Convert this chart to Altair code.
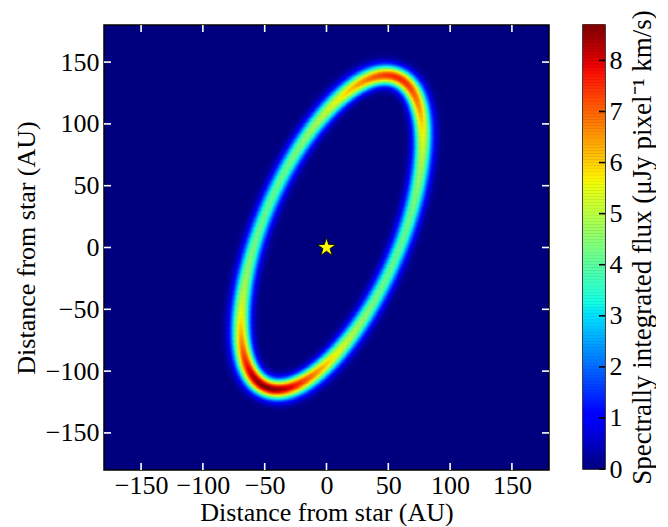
import numpy as np
import pandas as pd
import altair as alt

# ---------------- values ----------------
x_ticks = [-150, -100, -50, 0, 50, 100, 150]
y_ticks = [-150, -100, -50, 0, 50, 100, 150]
axis_limits = [-180, 180]
cbar_ticks = [0, 1, 2, 3, 4, 5, 6, 7, 8]

# ring geometry (AU, degrees)
ring_center = [4.5, 12.5]
ring_semi_major = 136.0
ring_semi_minor = 55.5
ring_tilt_deg = 23.0            # major axis tilt from +y towards +x
ring_sigma_ansa = 5.4           # Gaussian width at the ansae (AU, sky)
ring_sigma_side_ratio = 0.93    # width ratio at minor-axis ends
ring_base_flux = 3.85           # flux along the sides
ansa_angle_deg = [0.0, 180.0]   # top-right ansa, bottom-left ansa
ansa_extra_flux = [3.7, 4.85]
ansa_width_deg = [34.0, 34.0]
star_xy = [0.0, 0.0]

cell = 1.0

# ---------------- build the image ----------------
centers = np.arange(axis_limits[0] + cell / 2, axis_limits[1], cell)
X, Y = np.meshgrid(centers, centers)
t = np.deg2rad(ring_tilt_deg)
dx = X - ring_center[0]
dy = Y - ring_center[1]
u = dx * np.sin(t) + dy * np.cos(t)
v = dx * np.cos(t) - dy * np.sin(t)
a, b = ring_semi_major, ring_semi_minor
rho = np.sqrt((u / a) ** 2 + (v / b) ** 2)
phi = np.arctan2(v / b, u / a)
dist = (rho - 1.0) * a * b / np.sqrt((b * np.cos(phi)) ** 2 + (a * np.sin(phi)) ** 2)
sig = ring_sigma_ansa * np.sqrt(np.cos(phi) ** 2 + (ring_sigma_side_ratio * np.sin(phi)) ** 2)
flux = np.full_like(phi, ring_base_flux)
for ang, amp, w in zip(ansa_angle_deg, ansa_extra_flux, ansa_width_deg):
    d = np.angle(np.exp(1j * (phi - np.deg2rad(ang))))
    flux = flux + amp * np.exp(-d ** 2 / (2 * np.deg2rad(w) ** 2))
img = flux * np.exp(-dist ** 2 / (2 * sig ** 2))
vmax = float(img.max())


def jet(tt):
    tt = np.clip(tt, 0, 1)
    r = np.interp(tt, [0, 0.35, 0.66, 0.89, 1], [0, 0, 1, 1, 0.5])
    g = np.interp(tt, [0, 0.125, 0.375, 0.64, 0.91, 1], [0, 0, 1, 1, 0, 0])
    bb = np.interp(tt, [0, 0.11, 0.34, 0.65, 1], [0.5, 1, 1, 0, 0])
    return ["#%02x%02x%02x" % (int(round(p * 255)), int(round(q * 255)), int(round(s * 255)))
            for p, q, s in zip(r, g, bb)]


mask = img > 0.06
vals = img[mask]
cells = pd.DataFrame({
    "x0": X[mask] - cell / 2, "x1": X[mask] + cell / 2,
    "y0": Y[mask] - cell / 2, "y1": Y[mask] + cell / 2,
    "c": jet(vals / vmax),
})

W = 445
H = 445
FONT = "Liberation Serif"
FS = 26
xs = alt.Scale(domain=axis_limits, nice=False, zero=False)
ys = alt.Scale(domain=axis_limits, nice=False, zero=False)
tick_len = 7

heat = alt.Chart(cells).mark_rect(strokeWidth=0.6).encode(
    x=alt.X("x0:Q", scale=xs, axis=alt.Axis(values=x_ticks, title="Distance from star (AU)",
                                            labelPadding=2, titlePadding=1)),
    x2="x1:Q",
    y=alt.Y("y0:Q", scale=ys, axis=alt.Axis(values=y_ticks, title="Distance from star (AU)",
                                            labelPadding=5, titlePadding=6)),
    y2="y1:Q",
    color=alt.Color("c:N", scale=None),
    stroke=alt.Stroke("c:N", scale=None),
)

star_path = ("M0,-1L0.2245,-0.309L0.951,-0.309L0.363,0.118L0.588,0.809L0,0.382"
             "L-0.588,0.809L-0.363,0.118L-0.951,-0.309L-0.2245,-0.309Z")
star = alt.Chart(pd.DataFrame({"x": [star_xy[0]], "y": [star_xy[1]]})).mark_point(
    shape=star_path, filled=True, fill="#ffff00", stroke="black", strokeWidth=0.8,
    size=380, opacity=1).encode(x=alt.X("x:Q", scale=xs), y=alt.Y("y:Q", scale=ys))

xt = pd.DataFrame({"t": x_ticks})
yt = pd.DataFrame({"t": y_ticks})
rule_style = dict(color="white", strokeWidth=1.6)
tb = alt.Chart(xt).mark_rule(**rule_style).encode(
    x=alt.X("t:Q", scale=xs), y=alt.value(H), y2=alt.value(H - tick_len))
tt_ = alt.Chart(xt).mark_rule(**rule_style).encode(
    x=alt.X("t:Q", scale=xs), y=alt.value(0), y2=alt.value(tick_len))
tl = alt.Chart(yt).mark_rule(**rule_style).encode(
    y=alt.Y("t:Q", scale=ys), x=alt.value(0), x2=alt.value(tick_len))
tr = alt.Chart(yt).mark_rule(**rule_style).encode(
    y=alt.Y("t:Q", scale=ys), x=alt.value(W), x2=alt.value(W - tick_len))

main = alt.layer(heat, star, tb, tt_, tl, tr).properties(width=W, height=H)

# ---------------- colour bar ----------------
nseg = 300
edges = np.linspace(0, vmax, nseg + 1)
mids = (edges[:-1] + edges[1:]) / 2
cb = pd.DataFrame({"lo": edges[:-1], "hi": edges[1:] + vmax / nseg * 0.3,
                   "x0": 0.0, "x1": 1.0, "c": jet(mids / vmax)})
cbs = alt.Scale(domain=[0, vmax], nice=False, zero=False)
cbar_rects = alt.Chart(cb).mark_rect(strokeWidth=0).encode(
    x=alt.X("x0:Q", scale=alt.Scale(domain=[0, 1]), axis=None),
    x2="x1:Q",
    y=alt.Y("lo:Q", scale=cbs, axis=alt.Axis(
        orient="right", values=cbar_ticks, labelPadding=4,
        title="Spectrally integrated flux (\u03bcJy pixel\u207b\u00b9 km/s)",
        titleFontSize=27,
        titleAngle=270, titleBaseline="top", titlePadding=7)),
    y2="hi:Q",
    color=alt.Color("c:N", scale=None),
)
cbar_ticks_df = pd.DataFrame({"t": cbar_ticks})
cbar_tk = alt.Chart(cbar_ticks_df).mark_rule(color="black", strokeWidth=1.6).encode(
    y=alt.Y("t:Q", scale=cbs), x=alt.value(22), x2=alt.value(22 - 6))
cbar = alt.layer(cbar_rects, cbar_tk).properties(width=22, height=444)

chart = alt.hconcat(main, cbar, spacing=34, bounds="flush").properties(
    padding={"left": 4, "top": 0, "right": 0, "bottom": 0}
).configure_view(
    fill="#00007f", stroke="black", strokeWidth=1.5
).configure_axis(
    domain=False, ticks=False, grid=False,
    labelFont=FONT, labelFontSize=FS, labelColor="black",
    titleFont=FONT, titleFontSize=FS, titleFontWeight="normal", titleColor="black",
)

chart.save("out.html", embed_options={"renderer": "svg", "actions": False})
